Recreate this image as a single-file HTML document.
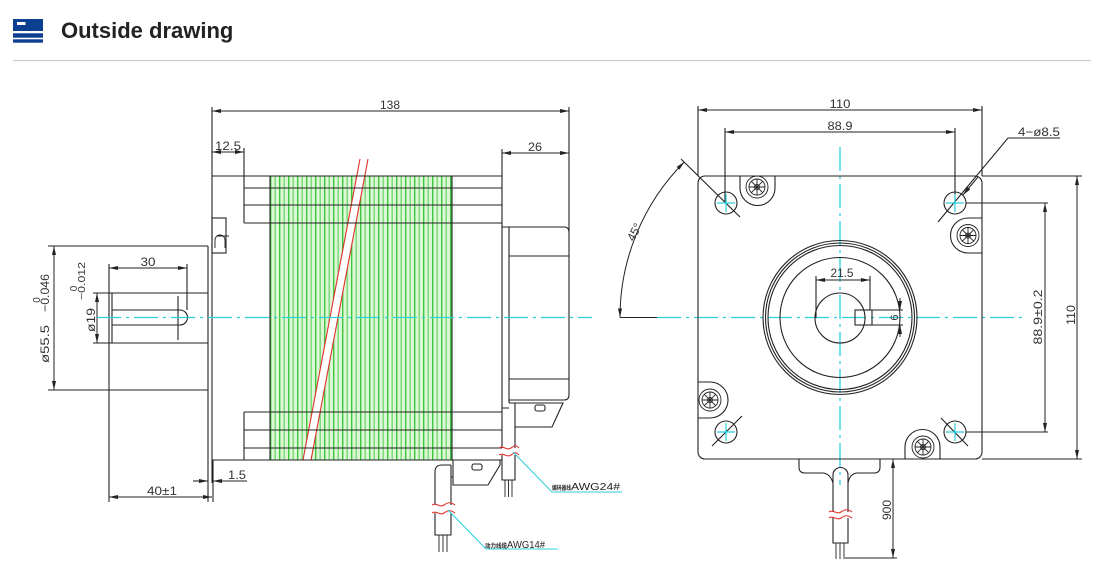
<!DOCTYPE html>
<html><head><meta charset="utf-8">
<style>
html,body{margin:0;padding:0;background:#fff;width:1104px;height:582px;overflow:hidden}
svg{display:block}
</style></head><body>
<svg width="1104" height="582" viewBox="0 0 1104 582" xmlns="http://www.w3.org/2000/svg" font-family="'Liberation Sans', 'Noto Sans CJK SC', sans-serif">
<defs>
<marker id="a" viewBox="0 0 9 4" refX="9" refY="2" markerWidth="9" markerHeight="4" markerUnits="userSpaceOnUse" orient="auto-start-reverse"><path d="M0,0 L9,2 L0,4 Z" fill="#222"/></marker>
<pattern id="g" width="9" height="10" patternUnits="userSpaceOnUse" x="270" y="0">
<rect width="9" height="10" fill="#dcf7d5"/>
<rect x="0" width="1.4" height="10" fill="#3fc63f"/>
<rect x="4.5" width="1.4" height="10" fill="#78d878"/>
</pattern>
</defs>
<rect width="1104" height="582" fill="#fff"/>

<!-- header -->
<rect x="13" y="19" width="30" height="12" fill="#0b3f8f"/>
<rect x="17" y="22" width="8.5" height="3" fill="#fff"/>
<rect x="13" y="33.3" width="30" height="4.4" fill="#0b3f8f"/>
<rect x="13" y="39.3" width="30" height="3.4" fill="#0b3f8f"/>
<text x="61" y="38" font-size="22" font-weight="bold" fill="#222">Outside drawing</text>
<line x1="13" y1="60.5" x2="1091" y2="60.5" stroke="#cdcdcd" stroke-width="1.2"/>

<!-- ============ LEFT VIEW ============ -->
<rect x="270" y="176" width="182" height="284" fill="url(#g)"/>
<!-- red break band -->
<polygon points="360,159 368,159 311,460 303,460" fill="#fff"/>
<path d="M360,159 L303,460 M368,159 L311,460" stroke="#e0302a" stroke-width="1.1" fill="none"/>

<g stroke="#222" stroke-width="1.1" fill="none">
<path d="M212,107 V483 M208,246 V502 M213,460 V502"/>
<path d="M212,176 H502 M212,460 H502"/>
<path d="M244,148 V223 M244,412 V460"/>
<path d="M244,188 H502 M244,205 H502 M244,223 H502"/>
<path d="M244,412 H502 M244,430 H502 M244,448 H502"/>
<path d="M270,176 V460 M452,176 V460"/>
<path d="M502,149 V408"/>
<path d="M569,107 V232"/>
<path d="M502,227 H564 Q569,227 569,232 V395 Q569,400 564,400 H509"/>
<path d="M509,227 V403 M502,408 H509"/>
<path d="M509,256 H569 M509,379 H569"/>
<!-- rear bracket -->
<path d="M509,403 H563 L552,427 H515"/>
<rect x="535" y="405" width="10" height="6" rx="2"/>
<!-- rear cable -->
<path d="M502,408 V448 M515,403 V448 M502,455 V480 H515 V455"/>
<path d="M505,480 V497 M508.5,480 V497 M512,480 V497" stroke-width="0.9"/>
<!-- front bracket -->
<path d="M453,460 V485 H488 L500,465 V460"/>
<rect x="472" y="464" width="10" height="6" rx="2"/>
<!-- front cable -->
<path d="M451,465 H442 Q435,465 435,472 V505 M451,465 V505 M435,513 V535 H451 V513 M451,477 H453"/>
<path d="M439,535 V552 M443,535 V552 M447,535 V552" stroke-width="0.9"/>
<!-- ground symbol -->
<rect x="212" y="218" width="14" height="35"/>
<path d="M215,248 V240 A5,5 0 0 1 225,240 V248 M217,236 H229" stroke-width="0.9"/>
<!-- shaft -->
<path d="M93,293 H208 M93,343 H208 M109,264 V502 M112,293 V343"/>
<path d="M112,310 H180 A7.5,7.5 0 0 1 180,325 H112 M178,296 V340"/>
<path d="M187,264 V310"/>
<path d="M48,246 H208 M48,390 H208"/>
<path d="M193,481 H208" marker-end="url(#a)"/>
<path d="M247,481 H213" marker-end="url(#a)"/>
</g>
<!-- dim lines left -->
<g stroke="#222" stroke-width="1" fill="none" marker-start="url(#a)" marker-end="url(#a)">
<path d="M212,111 H569"/>
<path d="M212,152 H244"/>
<path d="M502,153 H569"/>
<path d="M109,268 H187"/>
<path d="M54,246 V390"/>
<path d="M97,293 V343"/>
<path d="M109,497 H212"/>
</g>
<!-- red breaks on cables -->
<g stroke="#e0302a" stroke-width="1.1" fill="none">
<path d="M432,505 C436,502 440,508 444,505 S451,502 455,505"/>
<path d="M432,513 C436,510 440,516 444,513 S451,510 455,513"/>
<path d="M499,448 C503,445 507,451 511,448 S516,445 519,448"/>
<path d="M499,455 C503,452 507,458 511,455 S516,452 519,455"/>
</g>
<!-- leaders -->
<g stroke="#2ccfdc" stroke-width="1.1" fill="none">
<path d="M513,452 L552,492 H622"/>
<path d="M448,510 L486,549 H558"/>
</g>
<!-- centerline left -->
<path d="M97,317.5 H592" stroke="#2ccfdc" stroke-width="1.3" stroke-dasharray="24 5 3 5" fill="none"/>

<!-- left texts -->
<g fill="#333" font-size="12">
<text x="390" y="109" text-anchor="middle" textLength="20" lengthAdjust="spacingAndGlyphs">138</text>
<text x="228" y="150" text-anchor="middle" textLength="26" lengthAdjust="spacingAndGlyphs">12.5</text>
<text x="535" y="151" text-anchor="middle" textLength="14" lengthAdjust="spacingAndGlyphs">26</text>
<text x="148" y="266" text-anchor="middle" textLength="15" lengthAdjust="spacingAndGlyphs">30</text>
<text x="162" y="495" text-anchor="middle" textLength="30" lengthAdjust="spacingAndGlyphs">40±1</text>
<text x="237" y="479" text-anchor="middle" textLength="18" lengthAdjust="spacingAndGlyphs">1.5</text>
<text transform="translate(49,344) rotate(-90)" text-anchor="middle" textLength="38" lengthAdjust="spacingAndGlyphs">ø55.5</text>
<text transform="translate(49,293) rotate(-90)" text-anchor="middle" textLength="38" lengthAdjust="spacingAndGlyphs">−0.046</text>
<text transform="translate(40,300) rotate(-90)" text-anchor="middle" font-size="10">0</text>
<text transform="translate(95,320) rotate(-90)" text-anchor="middle" textLength="24" lengthAdjust="spacingAndGlyphs">ø19</text>
<text transform="translate(85,281) rotate(-90)" text-anchor="middle" font-size="10" textLength="38" lengthAdjust="spacingAndGlyphs">−0.012</text>
<text transform="translate(77,288.5) rotate(-90)" text-anchor="middle" font-size="10">0</text>
</g>
<g fill="#222">
<text x="552" y="490" font-size="6" font-weight="bold" textLength="19" lengthAdjust="spacingAndGlyphs">编码器线</text>
<text x="571" y="490" font-size="10" textLength="49" lengthAdjust="spacingAndGlyphs">AWG24#</text>
<text x="485" y="548" font-size="6" font-weight="bold" textLength="22" lengthAdjust="spacingAndGlyphs">动力线缆</text>
<text x="507" y="548" font-size="10" textLength="38" lengthAdjust="spacingAndGlyphs">AWG14#</text>
</g>

<!-- ============ RIGHT VIEW ============ -->
<!-- centerlines -->
<g stroke="#2ccfdc" stroke-width="1.3" fill="none" stroke-dasharray="24 5 3 5">
<path d="M657,317.5 H1022"/>
<path d="M840,147 V485"/>
</g>
<g stroke="#222" stroke-width="1.1" fill="none">
<rect x="698" y="176" width="284" height="283" rx="7"/>
<!-- big circles -->
<circle cx="840" cy="317.5" r="77"/>
<circle cx="840" cy="317.5" r="74.5"/>
<circle cx="840" cy="317.5" r="72"/>
<circle cx="840" cy="317.5" r="60"/>
<circle cx="840" cy="318" r="25"/>
<rect x="855" y="310" width="17" height="15"/>
<path d="M816,276 V318 M870,276 V310 M872,310 H903 M872,325 H903"/>
<!-- holes -->
<circle cx="726" cy="203" r="11"/>
<circle cx="955" cy="203" r="11"/>
<circle cx="726" cy="432" r="11"/>
<circle cx="955" cy="432" r="11"/>
<path d="M681,159 L740,217"/>
<path d="M938,222 L1008,138 H1060"/>
<path d="M712,446 L742,416 M941,418 L968,446"/>
<!-- bosses -->
<path d="M740,176 V188 A17.5,17.5 0 0 0 775,188 V176"/>
<path d="M982,218 H968 A17.5,17.5 0 0 0 968,253 H982"/>
<path d="M698,382 H710 A18,18 0 0 1 710,418 H698"/>
<path d="M905,459 V447 A17.5,17.5 0 0 1 940,447 V459"/>
<!-- ext lines -->
<path d="M698,106 V176 M982,106 V176 M725,128 V203 M955,128 V203"/>
<path d="M966,203 H1048 M966,432 H1048 M982,176 H1082 M982,459 H1082"/>
<path d="M620,317.5 H657"/>
<!-- cable bottom -->
<path d="M799,459 V467 Q799,473 805,473 H822 Q830,473 833,483"/>
<path d="M880,459 V467 Q880,473 874,473 H858 Q850,473 848,483"/>
<path d="M833,512 V475 A7.5,7.5 0 0 1 848,475 V512 M833,518 V543 H848 V518"/>
<path d="M836,543 V559 M840,543 V559 M844,543 V559" stroke-width="0.9"/>
<path d="M845,558 H897"/>
</g>
<!-- rosettes -->
<g stroke="#222" stroke-width="0.9" fill="none">
<g transform="translate(757,187)"><circle r="11"/><circle r="8"/><circle r="2.5"/><path d="M-8,0H8M0,-8V8M-5.7,-5.7L5.7,5.7M-5.7,5.7L5.7,-5.7"/></g>
<g transform="translate(968,235.5)"><circle r="11"/><circle r="8"/><circle r="2.5"/><path d="M-8,0H8M0,-8V8M-5.7,-5.7L5.7,5.7M-5.7,5.7L5.7,-5.7"/></g>
<g transform="translate(710,400)"><circle r="11"/><circle r="8"/><circle r="2.5"/><path d="M-8,0H8M0,-8V8M-5.7,-5.7L5.7,5.7M-5.7,5.7L5.7,-5.7"/></g>
<g transform="translate(923,447)"><circle r="11"/><circle r="8"/><circle r="2.5"/><path d="M-8,0H8M0,-8V8M-5.7,-5.7L5.7,5.7M-5.7,5.7L5.7,-5.7"/></g>
</g>
<!-- hole crosses -->
<g stroke="#2ccfdc" stroke-width="1.2" fill="none">
<path d="M717,203 H735 M726,194 V212"/>
<path d="M946,203 H964 M955,194 V212"/>
<path d="M717,432 H735 M726,423 V441"/>
<path d="M946,432 H964 M955,423 V441"/>
</g>
<!-- red break right cable -->
<g stroke="#e0302a" stroke-width="1.1" fill="none">
<path d="M829,512 C833,509 837,515 841,512 S848,509 852,512"/>
<path d="M829,518 C833,515 837,521 841,518 S848,515 852,518"/>
</g>
<!-- right dims -->
<g stroke="#222" stroke-width="1" fill="none" marker-start="url(#a)" marker-end="url(#a)">
<path d="M698,110 H982"/>
<path d="M725,132 H955"/>
<path d="M816,280 H870"/>
<path d="M1045,203 V432"/>
<path d="M1077,176 V459"/>
<path d="M893,459 V558"/>
<path d="M620,317.5 A220,220 0 0 1 684.4,161.9"/>
</g>
<g stroke="#222" stroke-width="1" fill="none">
<path d="M900,298 V310" marker-end="url(#a)"/>
<path d="M900,337 V325" marker-end="url(#a)"/>
<path d="M978,177 L963,195" marker-end="url(#a)"/>
</g>
<!-- right texts -->
<g fill="#333" font-size="12">
<text x="840" y="108" text-anchor="middle" textLength="21" lengthAdjust="spacingAndGlyphs">110</text>
<text x="840" y="130" text-anchor="middle" textLength="25" lengthAdjust="spacingAndGlyphs">88.9</text>
<text x="1018" y="136" textLength="42" lengthAdjust="spacingAndGlyphs">4−ø8.5</text>
<text x="842" y="277" text-anchor="middle" textLength="23" lengthAdjust="spacingAndGlyphs">21.5</text>
<text transform="translate(898,317.5) rotate(-90)" text-anchor="middle" font-size="11">6</text>
<text transform="translate(1042,317) rotate(-90)" text-anchor="middle" textLength="55" lengthAdjust="spacingAndGlyphs">88.9±0.2</text>
<text transform="translate(1075,315) rotate(-90)" text-anchor="middle" textLength="20" lengthAdjust="spacingAndGlyphs">110</text>
<text transform="translate(891,510) rotate(-90)" text-anchor="middle" textLength="20" lengthAdjust="spacingAndGlyphs">900</text>
<text transform="translate(638,234) rotate(-62)" text-anchor="middle" textLength="18" lengthAdjust="spacingAndGlyphs">45°</text>
</g>
</svg>
</body></html>
